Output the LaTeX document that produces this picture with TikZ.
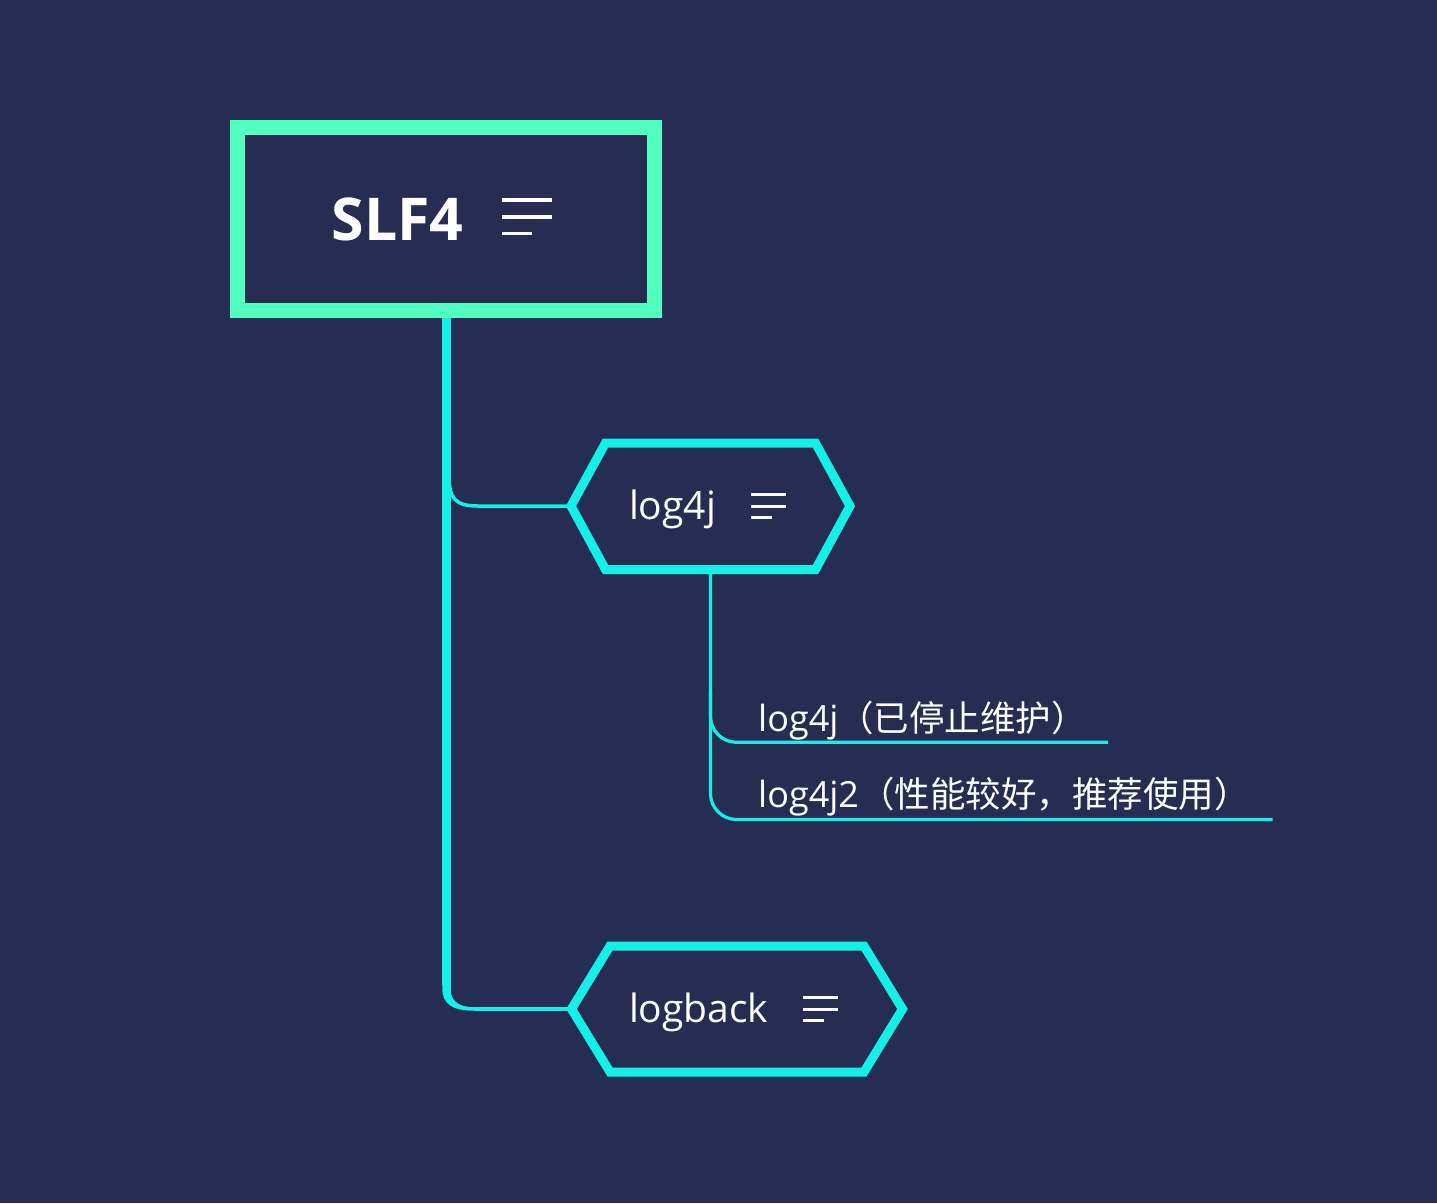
\documentclass[tikz,border=0pt]{standalone}
\usepackage{fontspec}
\setmainfont{Open Sans}
\newfontfamily\cjk{Noto Sans CJK SC}
\definecolor{bgc}{HTML}{262D52}
\definecolor{rootc}{HTML}{52FFC0}
\definecolor{cyc}{HTML}{14F0E8}
\begin{document}
\begin{tikzpicture}[x=1pt,y=-1pt,
  rootbox/.style={draw=rootc, line width=15pt, minimum width=417pt, minimum height=183pt, inner sep=0pt},
  hexline/.style={draw=cyc, line width=9pt, line join=miter},
  trunk/.style={draw=cyc, line width=8.5pt},
  branch/.style={draw=cyc, line width=3.5pt},
  subline/.style={draw=cyc, line width=3.2pt, rounded corners=26pt},
  iconline/.style={draw=white, line width=3.5pt},
  lbl/.style={text=white, inner sep=0pt, anchor=base west},
  big/.style={font=\fontsize{59pt}{60pt}\selectfont\bfseries},
  mid/.style={font=\fontsize{39pt}{40pt}\selectfont},
  small/.style={font=\fontsize{36pt}{36pt}\selectfont}
]
\fill[bgc] (0,0) rectangle (1437,1203);
\useasboundingbox (0,0) rectangle (1437,1203);

% root box and trunk
\node[rootbox] (root) at (446,219) {};
\coordinate (trunkend) at (446.5,985);
\draw[trunk] (446.5,318) -- (trunkend);

% root text and icon
\node[lbl, big] (t0) at (331.5,240) {SLF4};
\draw[iconline] (502,200) -- (552,200);
\draw[iconline] (502,217) -- (552,217);
\draw[iconline] (502,233.5) -- (531.5,233.5);

% log4j hexagon
\coordinate (aL) at (571,506);
\coordinate (aB) at (710.5,569.5);
\draw[hexline] (aL) -- (605.5,443) -- (815.5,443) -- (850,506) -- (815.5,569.5) -- (605.5,569.5) -- cycle;
\node[lbl, mid] (t1) at (628.8,519.3) {log4j};
\draw[iconline, line width=3pt] (751,494.7) -- (786,494.7);
\draw[iconline, line width=3pt] (751,506) -- (786,506);
\draw[iconline, line width=3pt] (751,517.2) -- (771.7,517.2);

% logback hexagon
\coordinate (bL) at (571.5,1009);
\draw[hexline] (bL) -- (610,946) -- (864,946) -- (902.5,1009) -- (864,1072) -- (610,1072) -- cycle;
\node[lbl, mid] (t2) at (628.8,1022.7) {logback};
\draw[iconline, line width=3pt] (803.3,997.7) -- (838.3,997.7);
\draw[iconline, line width=3pt] (803.3,1009) -- (838.3,1009);
\draw[iconline, line width=3pt] (803.3,1020) -- (824.3,1020);

% branch to log4j
\coordinate (c1) at (478,506);
\draw[branch] (449,476) .. controls (449,499) and (456,506) .. (c1) -- (aL);

% branch to logback (tapered corner)
\coordinate (c2) at (475,1009);
\fill[cyc] (442.25,980) -- (442.25,988) .. controls (442.25,1004) and (452,1010.75) .. (475,1010.75)
  -- (475,1007.25) .. controls (462,1007.25) and (450.75,1003) .. (450.75,990) -- (450.75,980) -- cycle;
\draw[branch] (c2) -- (bL);

% sub branches of log4j
\coordinate (e1) at (1108,742.3);
\coordinate (e2) at (1272.5,819.5);
\draw[subline] (aB) |- (e2);
\draw[subline] (710.5,690) |- (e1);
\node[lbl, small] (s1) at (758,731) {log4j{\cjk\fontsize{35.5pt}{36pt}\selectfont （已停止维护）}};
\node[lbl, small] (s2) at (758,807) {log4j2{\cjk\fontsize{35.5pt}{36pt}\selectfont （性能较好，推荐使用）}};
\end{tikzpicture}
\end{document}
